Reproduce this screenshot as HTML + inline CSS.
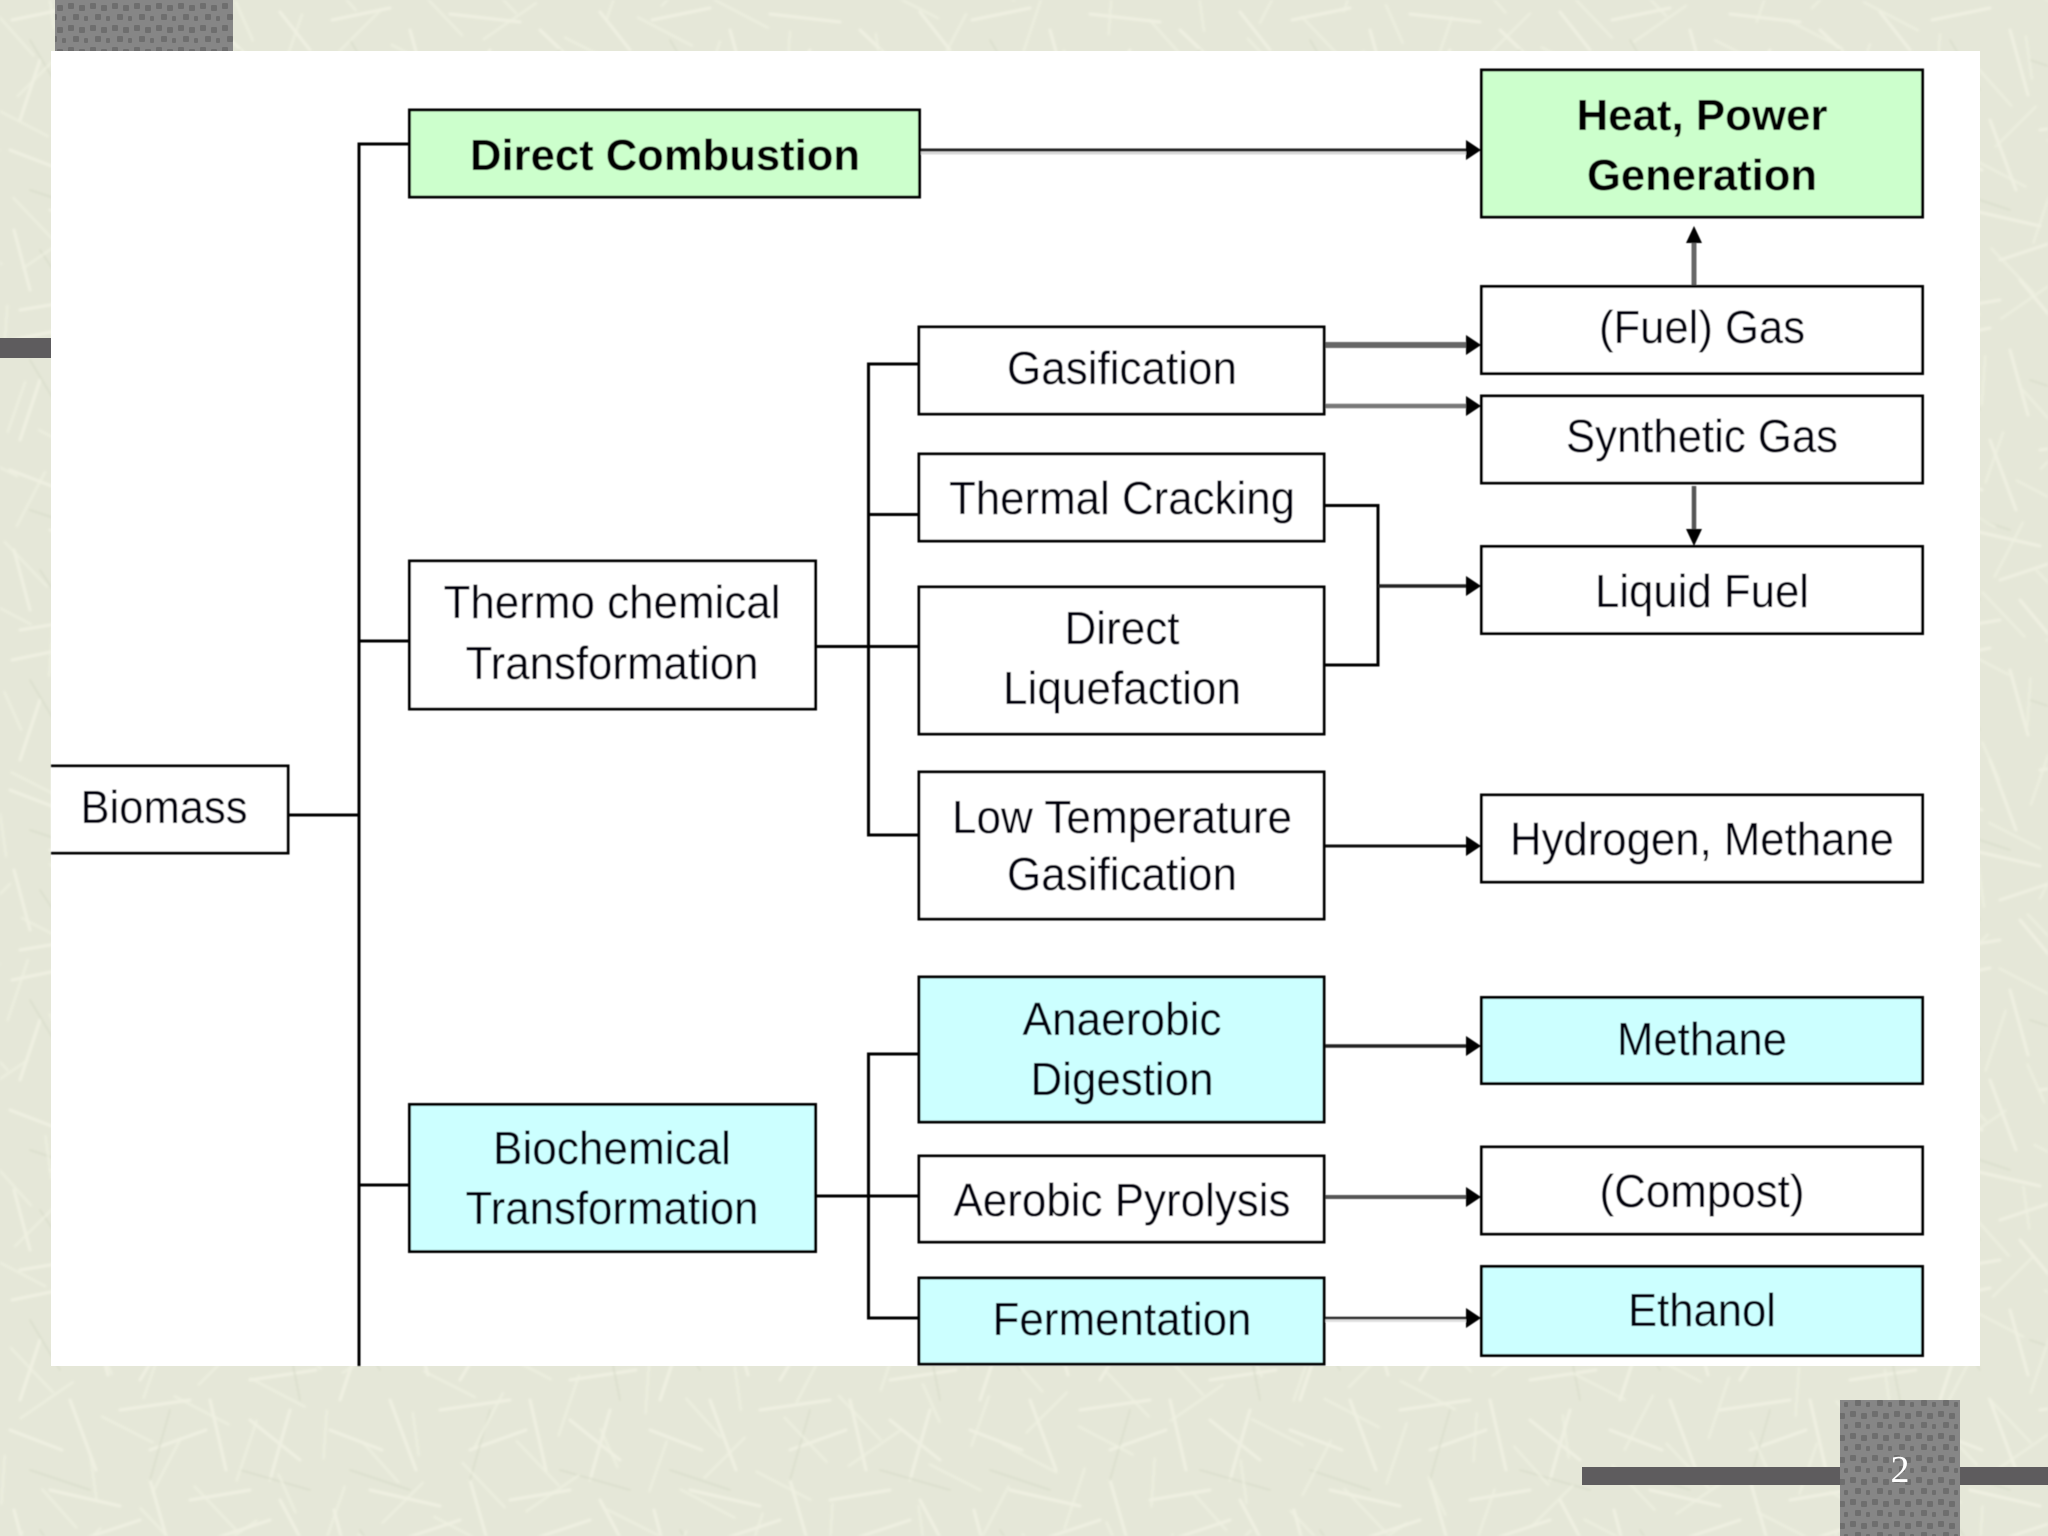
<!DOCTYPE html>
<html lang="en">
<head>
<meta charset="utf-8">
<title>Biomass conversion diagram</title>
<style>
html,body{margin:0;padding:0;background:#e5e7d8;}
svg{display:block;}
text{font-family:"Liberation Sans",Arial,sans-serif;font-size:46px;fill:#04040c;text-anchor:middle;}
.b{font-weight:bold;font-size:44px;fill:#000;}
.box{stroke:#000;stroke-width:3;}
.ln{stroke:#000;stroke-width:3;fill:none;}
.n{font-family:"Liberation Serif",serif;font-size:38px;fill:#fff;}
</style>
</head>
<body>
<svg width="2048" height="1536" viewBox="0 0 2048 1536" xmlns="http://www.w3.org/2000/svg">
<defs>
<pattern id="tex" width="320" height="320" patternUnits="userSpaceOnUse">
<rect width="320" height="320" fill="#e5e7d8"/>
<g stroke="#f1f3e4" stroke-width="3" stroke-linecap="round" fill="none" opacity=".85">
<path d="M12 20L70 8M40 60L20 120M90 30L108 95M130 14L200 22M170 50L140 100M220 30L262 70M280 12L310 50M250 100L316 90"/>
<path d="M10 150L62 170M70 120L96 190M120 130L190 120M150 170L206 150M210 120L226 190M250 140L300 180M290 130L270 200"/>
<path d="M14 230L30 290M50 210L120 226M80 260L140 240M150 200L170 270M190 220L250 210M210 260L270 240M280 220L312 280"/>
<path d="M20 310L80 300M100 280L130 316M160 300L220 290M240 280L250 316M275 300L316 306"/>
</g>
<g stroke="#d9dccb" stroke-width="2" stroke-linecap="round" fill="none" opacity=".7">
<path d="M30 40L60 90M110 60L170 80M200 80L240 50M290 70L300 120M30 190L90 210M170 130L150 200M240 190L310 210M60 280L40 250M130 280L190 260M230 300L290 260"/>
</g>
</pattern>
<pattern id="tex2" width="230" height="230" patternUnits="userSpaceOnUse" patternTransform="rotate(37)">
<g stroke="#eff1e2" stroke-width="2.5" stroke-linecap="round" fill="none">
<path d="M10 14L60 24M80 10L72 66M110 30L170 20M190 10L216 50M20 60L36 110M60 90L120 80M140 60L160 120M190 90L226 110M14 150L70 140M90 120L100 180M130 150L190 160M200 140L180 200M30 190L60 220M100 200L160 210"/>
</g>
</pattern>
<pattern id="dots" width="22" height="22" patternUnits="userSpaceOnUse">
<rect width="22" height="22" fill="#868686"/>
<g fill="#6e6e6e">
<rect x="2" y="3" width="6" height="6" rx="1"/>
<rect x="13" y="5" width="6" height="6" rx="1"/>
<rect x="7" y="14" width="6" height="6" rx="1"/>
<rect x="18" y="16" width="4" height="5" rx="1"/>
</g>
</pattern>
<filter id="soft" x="-5%" y="-5%" width="110%" height="110%"><feGaussianBlur stdDeviation="0.5"/></filter>
<filter id="bgsoft"><feGaussianBlur stdDeviation="1"/></filter>
</defs>

<g filter="url(#bgsoft)">
<rect width="2048" height="1536" fill="url(#tex)"/>
<rect width="2048" height="1536" fill="url(#tex2)" opacity=".7"/>
</g>
<rect x="1582" y="1467" width="466" height="18" fill="#5e5c5e"/>
<rect x="0" y="338" width="51" height="20" fill="#5e5c5e"/>
<rect x="55" y="0" width="178" height="51" fill="url(#dots)"/>
<rect x="1840" y="1400" width="120" height="136" fill="url(#dots)"/>
<text class="n" x="1900" y="1482">2</text>

<rect x="51" y="51" width="1929" height="1315" fill="#fff"/>

<g filter="url(#soft)">
<!-- main tree lines -->
<path class="ln" d="M409 144H359V1366"/>
<path class="ln" d="M289 815H359M359 641H409M359 1185H409"/>
<path class="ln" d="M918 364H868.5V835H918M868.5 514.5H918M816 646.5H918"/>
<path class="ln" d="M918 1054H868.5V1318H918M816 1196H918"/>
<path class="ln" d="M1324 505.5H1378V665H1324"/>

<!-- horizontal connectors -->
<path d="M919 152H1470" stroke="#d8d8d8" stroke-width="5" fill="none"/>
<path d="M919 150H1470" stroke="#222" stroke-width="3" fill="none"/>
<path d="M1324 345H1470" stroke="#666" stroke-width="6" fill="none"/>
<path d="M1324 406H1470" stroke="#777" stroke-width="4.5" fill="none"/>
<path d="M1378 586H1470" stroke="#222" stroke-width="3.5" fill="none"/>
<path d="M1324 846H1470" stroke="#111" stroke-width="3" fill="none"/>
<path d="M1324 1046H1470" stroke="#222" stroke-width="3.5" fill="none"/>
<path d="M1324 1197H1470" stroke="#555" stroke-width="4" fill="none"/>
<path d="M1324 1320H1470" stroke="#e0e0e0" stroke-width="4" fill="none"/>
<path d="M1324 1318H1470" stroke="#222" stroke-width="2.5" fill="none"/>
<g fill="#000">
<path d="M1466 140L1481 150L1466 160Z"/>
<path d="M1466 335L1481 345L1466 355Z"/>
<path d="M1466 396L1481 406L1466 416Z"/>
<path d="M1466 576L1481 586L1466 596Z"/>
<path d="M1466 836L1481 846L1466 856Z"/>
<path d="M1466 1036L1481 1046L1466 1056Z"/>
<path d="M1466 1187L1481 1197L1466 1207Z"/>
<path d="M1466 1308L1481 1318L1466 1328Z"/>
</g>

<!-- vertical connectors -->
<path d="M1694 286V240" stroke="#666" stroke-width="5" fill="none"/>
<path d="M1694 486V532" stroke="#555" stroke-width="4.5" fill="none"/>
<path d="M1686 243L1694 226L1702 243Z" fill="#000"/>
<path d="M1686 529L1694 546L1702 529Z" fill="#000"/>

<!-- boxes -->
<path class="box" d="M51 766H288V853H51" fill="#fff"/>
<rect class="box" x="409.5" y="110" width="510" height="87" fill="#ccffcc"/>
<rect class="box" x="409.5" y="561" width="406" height="148" fill="#fff"/>
<rect class="box" x="409.5" y="1104.5" width="406" height="147" fill="#ccffff"/>
<rect class="box" x="919" y="327" width="405" height="87" fill="#fff"/>
<rect class="box" x="919" y="454" width="405" height="87" fill="#fff"/>
<rect class="box" x="919" y="587" width="405" height="147" fill="#fff"/>
<rect class="box" x="919" y="772" width="405" height="147" fill="#fff"/>
<rect class="box" x="919" y="977" width="405" height="145" fill="#ccffff"/>
<rect class="box" x="919" y="1156" width="405" height="86" fill="#fff"/>
<rect class="box" x="919" y="1278" width="405" height="86" fill="#ccffff"/>
<rect class="box" x="1481.5" y="70" width="441" height="147" fill="#ccffcc"/>
<rect class="box" x="1481.5" y="286.5" width="441" height="87" fill="#fff"/>
<rect class="box" x="1481.5" y="396" width="441" height="87" fill="#fff"/>
<rect class="box" x="1481.5" y="546.5" width="441" height="87" fill="#fff"/>
<rect class="box" x="1481.5" y="795" width="441" height="87" fill="#fff"/>
<rect class="box" x="1481.5" y="997.5" width="441" height="86" fill="#ccffff"/>
<rect class="box" x="1481.5" y="1147" width="441" height="87" fill="#fff"/>
<rect class="box" x="1481.5" y="1266.5" width="441" height="89" fill="#ccffff"/>

<!-- labels -->
<g transform="translate(0,-1)">
<text x="164" y="824" textLength="167" lengthAdjust="spacingAndGlyphs">Biomass</text>
<text class="b" x="665" y="171" textLength="390" lengthAdjust="spacingAndGlyphs">Direct Combustion</text>
<text x="612" y="619" textLength="337" lengthAdjust="spacingAndGlyphs">Thermo chemical</text>
<text x="612" y="680" textLength="293" lengthAdjust="spacingAndGlyphs">Transformation</text>
<text x="612" y="1165" textLength="238" lengthAdjust="spacingAndGlyphs">Biochemical</text>
<text x="612" y="1225" textLength="293" lengthAdjust="spacingAndGlyphs">Transformation</text>
<text x="1122" y="385" textLength="230" lengthAdjust="spacingAndGlyphs">Gasification</text>
<text x="1122" y="515" textLength="346" lengthAdjust="spacingAndGlyphs">Thermal Cracking</text>
<text x="1122" y="645" textLength="115" lengthAdjust="spacingAndGlyphs">Direct</text>
<text x="1122" y="705" textLength="238" lengthAdjust="spacingAndGlyphs">Liquefaction</text>
<text x="1122" y="834" textLength="340" lengthAdjust="spacingAndGlyphs">Low Temperature</text>
<text x="1122" y="891" textLength="230" lengthAdjust="spacingAndGlyphs">Gasification</text>
<text x="1122" y="1036" textLength="199" lengthAdjust="spacingAndGlyphs">Anaerobic</text>
<text x="1122" y="1096" textLength="183" lengthAdjust="spacingAndGlyphs">Digestion</text>
<text x="1122" y="1217" textLength="337" lengthAdjust="spacingAndGlyphs">Aerobic Pyrolysis</text>
<text x="1122" y="1336" textLength="259" lengthAdjust="spacingAndGlyphs">Fermentation</text>
<text class="b" x="1702" y="131" textLength="251" lengthAdjust="spacingAndGlyphs">Heat, Power</text>
<text class="b" x="1702" y="191" textLength="230" lengthAdjust="spacingAndGlyphs">Generation</text>
<text x="1702" y="344" textLength="206" lengthAdjust="spacingAndGlyphs">(Fuel) Gas</text>
<text x="1702" y="453" textLength="272" lengthAdjust="spacingAndGlyphs">Synthetic Gas</text>
<text x="1702" y="608" textLength="214" lengthAdjust="spacingAndGlyphs">Liquid Fuel</text>
<text x="1702" y="856" textLength="384" lengthAdjust="spacingAndGlyphs">Hydrogen, Methane</text>
<text x="1702" y="1056" textLength="170" lengthAdjust="spacingAndGlyphs">Methane</text>
<text x="1702" y="1208" textLength="205" lengthAdjust="spacingAndGlyphs">(Compost)</text>
<text x="1702" y="1327" textLength="148" lengthAdjust="spacingAndGlyphs">Ethanol</text>
</g>
</g>
</svg>
</body>
</html>
